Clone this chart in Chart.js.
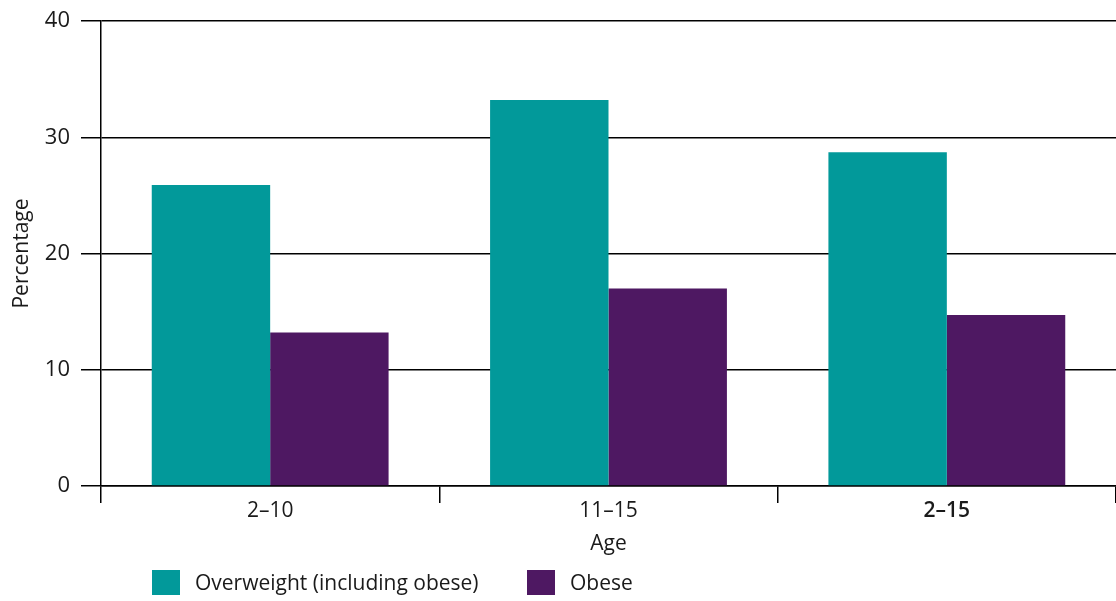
<!DOCTYPE html>
<html>
<head>
<meta charset="utf-8">
<script src="https://cdn.jsdelivr.net/npm/chart.js@4.4.1/dist/chart.umd.min.js"></script>
<style>
  html, body { margin: 0; padding: 0; background: #ffffff; }
  #wrap { width: 1116px; height: 601px; position: relative; }
</style>
</head>
<body>
<div id="wrap"><canvas id="c"></canvas></div>
<script>
const categories = ['2–10', '11–15', '2–15'];
const overweight = [25.9, 33.2, 28.7];
const obese = [13.2, 17.0, 14.7];
const seriesNames = ['Overweight (including obese)', 'Obese'];
const yTicks = [0, 10, 20, 30, 40];

const FONT = "'Open Sans', 'Noto Sans', sans-serif";
const TEAL = '#02999a';
const PURPLE = '#4e1862';

const legendPlugin = {
  id: 'customLegend',
  afterDraw(chart) {
    const ctx = chart.ctx;
    const items = [
      { x: 152, text: chart.data.datasets[0].label, color: chart.data.datasets[0].backgroundColor },
      { x: 527, text: chart.data.datasets[1].label, color: chart.data.datasets[1].backgroundColor }
    ];
    ctx.save();
    ctx.font = "21px " + FONT;
    ctx.textBaseline = 'middle';
    items.forEach(it => {
      ctx.fillStyle = it.color;
      ctx.fillRect(it.x, 570, 28, 25);
      ctx.fillStyle = '#1a1a1a';
      ctx.fillText(it.text, it.x + 43, 584);
    });
    ctx.restore();
  }
};

new Chart(document.getElementById('c'), {
  type: 'bar',
  data: {
    labels: categories,
    datasets: [
      { label: seriesNames[0], data: overweight, backgroundColor: TEAL, borderWidth: 0 },
      { label: seriesNames[1], data: obese, backgroundColor: PURPLE, borderWidth: 0 }
    ]
  },
  options: {
    responsive: true,
    maintainAspectRatio: false,
    animation: false,
    datasets: { bar: { categoryPercentage: 0.7, barPercentage: 1.0 } },
    layout: { padding: { left: 0, right: 0, top: 10, bottom: 45 } },
    plugins: {
      legend: { display: false },
      tooltip: { enabled: false }
    },
    scales: {
      x: {
        offset: true,
        grid: {
          offset: true,
          drawOnChartArea: false,
          drawTicks: true,
          tickLength: 17,
          color: '#000000',
          lineWidth: 1.5
        },
        border: { display: true, color: '#000000', width: 1.5 },
        ticks: {
          padding: -5,
          color: '#1a1a1a',
          font: (ctx) => ({ family: FONT, size: 21, weight: ctx.index === 2 ? '600' : 'normal' })
        },
        title: {
          display: true,
          text: 'Age',
          color: '#1a1a1a',
          font: { family: FONT, size: 21, lineHeight: 1.2 },
          padding: { top: 0, bottom: -1 }
        },
        afterFit(scale) { scale.height = 70; }
      },
      y: {
        min: 0,
        max: 40,
        afterBuildTicks(scale) { scale.ticks = yTicks.map(v => ({ value: v })); },
        grid: {
          color: '#000000',
          lineWidth: 1.5,
          tickLength: 20,
          drawTicks: true
        },
        border: { display: true, color: '#000000', width: 1.5 },
        ticks: {
          padding: 11,
          color: '#1a1a1a',
          font: { family: FONT, size: 22, lineHeight: '20px' }
        },
        title: {
          display: true,
          text: 'Percentage',
          color: '#1a1a1a',
          font: { family: FONT, size: 21, lineHeight: 1.2 },
          padding: { top: 9, bottom: 0 }
        },
        afterFit(scale) { scale.width = 101; }
      }
    }
  },
  plugins: [legendPlugin]
});
</script>
</body>
</html>
